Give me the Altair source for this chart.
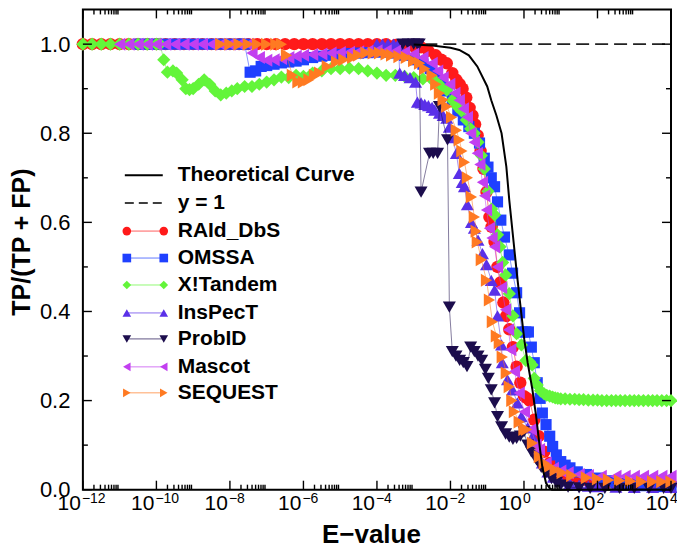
import altair as alt
import pandas as pd

W, H = 589, 481
FONT = "Liberation Sans"

# ---------------- data: (log10 E-value, TP/(TP+FP)) ----------------
raid = [(-12.0,1.0),(-11.75,1.0),(-11.5,1.0),(-11.25,1.0),(-11.0,1.0),(-10.75,1.0),(-10.5,1.0),(-10.25,1.0),
        (-10.0,1.0),(-9.75,1.0),(-9.5,1.0),(-9.25,1.0),(-9.0,1.0),(-8.75,1.0),(-8.5,1.0),(-8.25,1.0),
        (-8.0,1.0),(-7.75,1.0),(-7.5,1.0),(-7.25,1.0),(-7.0,1.0),(-6.75,1.0),(-6.5,1.0),(-6.25,1.0),
        (-6.0,1.0),(-5.75,1.0),(-5.5,1.0),(-5.25,1.0),(-5.0,1.0),(-4.75,1.0),(-4.5,1.0),(-4.25,1.0),
        (-4.0,1.0),(-3.75,1.0),(-3.5,0.998),(-3.25,0.997),(-3.0,0.995),(-2.8,0.993),(-2.6,0.985),
        (-2.4,0.975),(-2.25,0.965),(-2.1,0.957),(-1.95,0.935),(-1.84,0.92),(-1.75,0.91),(-1.67,0.90),
        (-1.57,0.88),(-1.48,0.857),(-1.4,0.84),(-1.33,0.82),(-1.26,0.795),(-1.18,0.76),(-1.1,0.72),
        (-1.02,0.668),(-0.94,0.612),(-0.88,0.59),(-0.8,0.556),(-0.72,0.50),(-0.64,0.465),(-0.56,0.42),
        (-0.48,0.39),(-0.4,0.36),(-0.3,0.32),(-0.2,0.276),(-0.1,0.24),(0.0,0.21),(0.07,0.206),
        (0.15,0.20),(0.28,0.157),(0.4,0.12),(0.55,0.085),(0.7,0.06),(0.85,0.045),(1.0,0.035),
        (1.2,0.028),(1.5,0.022),(1.75,0.019),(2.0,0.017),(2.25,0.016),(2.5,0.015),(2.75,0.014),
        (3.0,0.013),(3.25,0.013),(3.5,0.012),(3.75,0.012),(4.0,0.012)]

omssa = [(-10.5,1.0),(-10.25,1.0),(-10.0,1.0),(-9.75,1.0),(-9.5,1.0),(-9.25,1.0),(-9.0,1.0),(-8.75,1.0),
         (-8.5,1.0),(-8.25,1.0),(-8.0,1.0),(-7.75,1.0),(-7.6,1.0),(-7.45,0.937),(-7.3,0.94),(-7.15,0.95),
         (-7.0,0.952),(-6.8,0.955),(-6.6,0.958),(-6.4,0.96),(-6.2,0.962),(-6.0,0.965),(-5.75,0.97),
         (-5.5,0.973),(-5.25,0.975),(-5.0,0.977),(-4.75,0.979),(-4.5,0.98),(-4.25,0.981),(-4.0,0.982),
         (-3.75,0.982),(-3.5,0.98),(-3.25,0.975),(-3.0,0.965),(-2.75,0.955),(-2.55,0.945),(-2.4,0.93),
         (-2.25,0.915),(-2.1,0.895),(-1.95,0.875),(-1.8,0.85),(-1.65,0.83),(-1.5,0.815),(-1.35,0.80),
         (-1.21,0.778),(-1.08,0.744),(-0.98,0.724),(-0.89,0.70),(-0.8,0.68),(-0.72,0.646),(-0.63,0.605),
         (-0.53,0.567),(-0.4,0.527),(-0.31,0.486),(-0.2,0.442),(-0.12,0.397),(-0.05,0.354),(0.05,0.354),
         (0.12,0.354),(0.2,0.32),(0.28,0.285),(0.36,0.24),(0.44,0.205),(0.5,0.172),(0.6,0.146),
         (0.7,0.12),(0.78,0.097),(0.88,0.078),(1.0,0.063),(1.12,0.055),(1.25,0.049),(1.45,0.04),
         (1.7,0.034),(2.0,0.026),(2.25,0.02),(2.5,0.016),(2.75,0.013),(3.0,0.011),(3.25,0.009),
         (3.5,0.008),(3.75,0.007),(4.0,0.007)]

xtandem = [(-12.0,1.0),(-11.75,1.0),(-11.5,1.0),(-11.25,1.0),(-11.0,1.0),(-10.75,1.0),(-10.5,1.0),
           (-10.25,1.0),(-10.0,1.0),(-9.9,1.0),(-9.8,0.965),(-9.7,0.937),(-9.55,0.94),(-9.45,0.935),
           (-9.3,0.92),(-9.2,0.90),(-9.1,0.898),(-9.0,0.90),(-8.85,0.91),(-8.7,0.92),(-8.55,0.91),
           (-8.4,0.895),(-8.25,0.886),(-8.1,0.89),(-7.95,0.895),(-7.8,0.90),(-7.6,0.905),(-7.4,0.905),
           (-7.2,0.91),(-7.0,0.915),(-6.8,0.92),(-6.6,0.926),(-6.4,0.925),(-6.2,0.93),(-6.0,0.928),
           (-5.75,0.935),(-5.5,0.94),(-5.25,0.945),(-5.0,0.945),(-4.75,0.946),(-4.5,0.945),(-4.25,0.94),
           (-4.0,0.935),(-3.75,0.93),(-3.5,0.93),(-3.25,0.928),(-3.0,0.925),(-2.75,0.922),(-2.5,0.92),
           (-2.38,0.915),(-2.25,0.905),(-2.1,0.897),(-1.95,0.874),(-1.82,0.86),(-1.7,0.85),(-1.57,0.83),
           (-1.45,0.81),(-1.35,0.80),(-1.25,0.78),(-1.16,0.75),(-1.08,0.72),(-0.98,0.67),(-0.88,0.63),
           (-0.8,0.617),(-0.72,0.572),(-0.65,0.545),(-0.58,0.51),(-0.5,0.482),(-0.4,0.44),(-0.3,0.39),
           (-0.2,0.35),(-0.07,0.325),(0.05,0.29),(0.15,0.287),(0.22,0.28),(0.28,0.25),(0.36,0.235),
           (0.45,0.222),(0.55,0.215),(0.62,0.212),(0.7,0.21),(0.78,0.208),(0.85,0.206),(0.92,0.205),
           (1.0,0.204),(1.12,0.204),(1.25,0.203),(1.38,0.203),(1.5,0.202),(1.62,0.202),(1.75,0.201),
           (1.88,0.201),(2.0,0.201),(2.12,0.2),(2.25,0.2),(2.38,0.2),(2.5,0.2),(2.62,0.2),(2.75,0.2),
           (2.88,0.2),(3.0,0.2),(3.12,0.2),(3.25,0.2),(3.38,0.2),(3.5,0.2),(3.62,0.2),(3.75,0.2),
           (3.88,0.2),(4.0,0.2)]

inspect_ = [(-4.0,1.0),(-3.85,1.0),(-3.7,1.0),(-3.55,1.0),(-3.42,1.0),(-3.38,0.935),(-3.25,0.93),
            (-3.1,0.925),(-2.95,0.915),(-2.9,0.87),(-2.8,0.868),(-2.7,0.865),(-2.6,0.862),(-2.5,0.858),
            (-2.43,0.852),(-2.3,0.845),(-2.2,0.84),(-2.1,0.834),(-2.03,0.814),(-1.95,0.79),(-1.84,0.755),
            (-1.76,0.71),(-1.68,0.69),(-1.62,0.68),(-1.54,0.64),(-1.43,0.60),(-1.35,0.587),(-1.25,0.56),
            (-1.13,0.53),(-1.02,0.505),(-0.89,0.47),(-0.8,0.448),(-0.72,0.39),(-0.61,0.325),(-0.59,0.285),
            (-0.45,0.247),(-0.31,0.224),(-0.18,0.195),(-0.07,0.164),(0.1,0.139),(0.23,0.119),(0.35,0.09),
            (0.5,0.06),(0.65,0.04),(0.8,0.028),(1.0,0.02),(1.25,0.014),(1.5,0.01),(1.75,0.008),(2.0,0.007),
            (2.5,0.006),(3.0,0.005),(3.5,0.005),(4.0,0.005)]

probid = [(-3.3,1.0),(-3.15,1.0),(-3.0,1.0),(-2.9,1.0),(-2.85,1.0),(-2.8,0.668),(-2.57,0.755),
          (-2.47,0.755),(-2.35,0.755),(-2.3,0.86),(-2.08,0.785),(-2.03,0.41),(-1.95,0.31),(-1.85,0.30),
          (-1.75,0.29),(-1.65,0.285),(-1.55,0.276),(-1.45,0.32),(-1.35,0.31),(-1.25,0.30),(-1.15,0.29),
          (-1.05,0.27),(-0.97,0.25),(-0.89,0.224),(-0.8,0.195),(-0.72,0.164),(-0.61,0.141),(-0.5,0.125),
          (-0.4,0.118),(-0.3,0.113),(-0.2,0.115),(-0.1,0.12),(0.0,0.13),(0.1,0.1),(0.2,0.085),
          (0.34,0.067),(0.47,0.05),(0.6,0.038),(0.75,0.025),(0.88,0.016),(1.0,0.01),(1.2,0.006),
          (1.5,0.004),(1.8,0.003),(2.2,0.003),(2.6,0.003),(3.0,0.003),(3.4,0.003),(3.8,0.003),(4.0,0.003)]

mascot = [(-11.0,1.0),(-10.75,1.0),(-10.5,1.0),(-10.25,1.0),(-10.0,1.0),(-9.75,1.0),(-9.5,1.0),(-9.25,1.0),
          (-9.0,1.0),(-8.75,1.0),(-8.5,1.0),(-8.25,1.0),(-8.0,1.0),(-7.75,1.0),(-7.5,1.0),(-7.4,0.98),
          (-7.2,0.97),(-7.0,0.964),(-6.8,0.965),(-6.6,0.968),(-6.4,0.97),(-6.2,0.973),(-6.0,0.975),
          (-5.75,0.977),(-5.5,0.978),(-5.25,0.98),(-5.0,0.981),(-4.75,0.982),(-4.5,0.983),(-4.25,0.984),
          (-4.0,0.985),(-3.75,0.985),(-3.5,0.984),(-3.25,0.982),(-3.0,0.978),(-2.75,0.97),(-2.5,0.957),
          (-2.35,0.94),(-2.2,0.925),(-2.02,0.91),(-1.88,0.89),(-1.76,0.874),(-1.65,0.855),(-1.54,0.836),
          (-1.45,0.80),(-1.35,0.78),(-1.27,0.755),(-1.2,0.73),(-1.13,0.69),(-1.07,0.66),(-1.02,0.628),
          (-0.94,0.587),(-0.87,0.565),(-0.8,0.545),(-0.72,0.50),(-0.61,0.453),(-0.5,0.404),(-0.42,0.359),
          (-0.36,0.314),(-0.26,0.265),(-0.13,0.217),(0.01,0.175),(0.2,0.135),(0.33,0.1),(0.42,0.09),
          (0.6,0.06),(0.8,0.048),(1.0,0.042),(1.2,0.038),(1.5,0.034),(1.75,0.032),(2.1,0.03),(2.5,0.03),
          (2.75,0.03),(3.0,0.03),(3.25,0.03),(3.5,0.03),(3.75,0.03),(4.0,0.03)]

sequest = [(-8.25,1.0),(-8.0,1.0),(-7.75,1.0),(-7.5,1.0),(-7.25,1.0),(-7.0,1.0),(-6.75,1.0),(-6.6,1.0),
           (-6.46,0.975),(-6.3,0.93),(-6.15,0.915),(-6.0,0.915),(-5.85,0.92),(-5.7,0.93),(-5.56,0.935),
           (-5.35,0.95),(-5.1,0.96),(-4.9,0.965),(-4.66,0.97),(-4.5,0.975),(-4.3,0.98),(-4.1,0.98),
           (-3.93,0.98),(-3.75,0.978),(-3.6,0.975),(-3.4,0.972),(-3.2,0.97),(-3.0,0.963),(-2.84,0.957),
           (-2.7,0.945),(-2.5,0.93),(-2.4,0.91),(-2.3,0.89),(-2.2,0.875),(-2.1,0.86),(-1.97,0.836),
           (-1.84,0.807),(-1.76,0.785),(-1.69,0.76),(-1.62,0.735),(-1.54,0.70),(-1.43,0.657),(-1.35,0.612),
           (-1.3,0.58),(-1.27,0.556),(-1.16,0.516),(-1.02,0.47),(-0.94,0.426),(-0.86,0.377),(-0.75,0.345),
           (-0.67,0.33),(-0.59,0.298),(-0.48,0.262),(-0.4,0.231),(-0.33,0.2),(-0.26,0.175),(-0.13,0.152),
           (0.0,0.135),(0.07,0.135),(0.23,0.105),(0.42,0.074),(0.55,0.06),(0.69,0.052),(0.85,0.044),
           (1.04,0.038),(1.3,0.032),(1.7,0.027),(2.0,0.024),(2.3,0.022),(2.6,0.02),(2.9,0.019),(3.2,0.018),
           (3.5,0.018),(3.75,0.018),(4.0,0.018)]

theory = [(-3.0,0.999),(-2.5,0.997),(-2.0,0.992),(-1.76,0.987),(-1.5,0.975),(-1.27,0.95),(-1.0,0.905),
          (-0.89,0.874),(-0.75,0.84),(-0.61,0.80),(-0.48,0.725),(-0.4,0.65),(-0.3,0.57),(-0.2,0.49),
          (-0.08,0.40),(0.01,0.336),(0.1,0.285),(0.23,0.224),(0.33,0.165),(0.43,0.095),(0.5,0.05),
          (0.6,0.015),(0.7,0.003),(0.76,0.0),(1.0,0.0),(2.0,0.0),(3.0,0.0),(4.0,0.0)]

unity = [(-12.0,1.0),(4.0,1.0)]

names = ["RAId_DbS", "OMSSA", "X!Tandem", "InsPecT", "ProbID", "Mascot", "SEQUEST"]
series = [raid, omssa, xtandem, inspect_, probid, mascot, sequest]
colors = ["#ff1a1a", "#1f40ff", "#63f53a", "#5a30e8", "#1c0d4d", "#c23ff0", "#ff7a22"]
shapes = ["circle", "square", "diamond", "triangle-up", "triangle-down", "triangle-left", "triangle-right"]
msize = [155, 125, 175, 170, 170, 170, 170]

x_major = [-12, -10, -8, -6, -4, -2, 0, 2, 4]
minor_offsets = [0.301, 0.477, 0.602, 0.699, 0.778, 0.845, 0.903, 0.954]
y_major = [0.0, 0.2, 0.4, 0.6, 0.8, 1.0]
y_minor = [0.1, 0.3, 0.5, 0.7, 0.9]

# ---------------- chart ----------------
xs = alt.Scale(domain=[-12, 4], nice=False, zero=False)
ys = alt.Scale(domain=[0, 1.078], nice=False, zero=False)
XAX = alt.Axis(labels=False, ticks=False, domain=False, grid=False, title=None)
YAX = alt.Axis(values=y_major, format=".1f", ticks=False, domain=False, grid=False, title=None,
               labelFontSize=22, labelFont=FONT, labelColor="black", labelPadding=13)


def X(f="x"):
    return alt.X(f"{f}:Q", scale=xs, axis=XAX)


def Y(f="y"):
    return alt.Y(f"{f}:Q", scale=ys, axis=YAX)


def df(pairs):
    return pd.DataFrame(pairs, columns=["x", "y"])


layers = []
layers.append(alt.Chart(df(unity)).mark_line(color="#222222", strokeWidth=1.8, strokeDash=[13, 6])
              .encode(x=X(), y=Y()))

for name, data, col, shp, sz in zip(names, series, colors, shapes, msize):
    d = df(data)
    layers.append(alt.Chart(d).mark_line(color=col, strokeWidth=0.9, opacity=0.6).encode(x=X(), y=Y()))
    layers.append(alt.Chart(d).mark_point(filled=True, opacity=1, color=col, shape=shp, size=sz)
                  .encode(x=X(), y=Y()))

layers.append(alt.Chart(df(theory)).mark_line(color="black", strokeWidth=2).encode(x=X(), y=Y()))

# inward ticks (major and minor), on all four sides
xmaj = pd.DataFrame({"v": x_major})
xmin = pd.DataFrame({"v": [m + o for m in x_major[:-1] for o in minor_offsets]})
ymaj = pd.DataFrame({"v": y_major})
ymin = pd.DataFrame({"v": y_minor})
tk = dict(color="black", strokeWidth=1.4)
for dd, ln in ((xmaj, 9), (xmin, 5)):
    layers.append(alt.Chart(dd).mark_rule(**tk).encode(x=X("v"), y=alt.value(H), y2=alt.value(H - ln)))
    layers.append(alt.Chart(dd).mark_rule(**tk).encode(x=X("v"), y=alt.value(0), y2=alt.value(ln)))
for dd, ln in ((ymaj, 9), (ymin, 5)):
    layers.append(alt.Chart(dd).mark_rule(**tk).encode(y=Y("v"), x=alt.value(0), x2=alt.value(ln)))
    layers.append(alt.Chart(dd).mark_rule(**tk).encode(y=Y("v"), x=alt.value(W), x2=alt.value(W - ln)))

# x tick labels as 10 with a raised exponent
xl = pd.DataFrame({"v": x_major,
                   "e": [("\u2212" if v < 0 else "") + str(abs(v)) for v in x_major]})
layers.append(alt.Chart(xl).mark_text(align="right", baseline="alphabetic", fontSize=21, font=FONT,
                                      color="black", dx=-2)
              .encode(x=X("v"), y=alt.value(H + 20), text=alt.value("10")))
layers.append(alt.Chart(xl).mark_text(align="left", baseline="alphabetic", fontSize=14, font=FONT,
                                      color="black", dx=-1)
              .encode(x=X("v"), y=alt.value(H + 13), text="e:N"))

# axis titles
one = pd.DataFrame({"a": [0]})
layers.append(alt.Chart(one).mark_text(fontSize=26, fontWeight="bold", font=FONT, color="black",
                                       align="center", baseline="alphabetic")
              .encode(x=alt.value(289), y=alt.value(H + 53), text=alt.value("E\u2212value")))
layers.append(alt.Chart(one).mark_text(fontSize=25, fontWeight="bold", font=FONT, color="black",
                                       align="center", baseline="middle", angle=270)
              .encode(x=alt.value(-61), y=alt.value(233), text=alt.value("TP/(TP + FP)")))

# legend
leg_y = [166, 194, 222, 249, 276, 304, 330, 358, 384]
txt = dict(align="left", baseline="middle", fontSize=21, fontWeight="bold", font=FONT, color="black")
layers.append(alt.Chart(one).mark_rule(color="black", strokeWidth=2)
              .encode(x=alt.value(42), x2=alt.value(80), y=alt.value(leg_y[0])))
layers.append(alt.Chart(one).mark_text(**txt)
              .encode(x=alt.value(95), y=alt.value(leg_y[0]), text=alt.value("Theoretical Curve")))
layers.append(alt.Chart(one).mark_rule(color="black", strokeWidth=1.5, strokeDash=[9, 5])
              .encode(x=alt.value(42), x2=alt.value(80), y=alt.value(leg_y[1])))
layers.append(alt.Chart(one).mark_text(**txt)
              .encode(x=alt.value(95), y=alt.value(leg_y[1]), text=alt.value("y = 1")))
for i, (name, col, shp) in enumerate(zip(names, colors, shapes)):
    ry = leg_y[i + 2]
    layers.append(alt.Chart(one).mark_rule(color=col, strokeWidth=1, opacity=0.7)
                  .encode(x=alt.value(44), x2=alt.value(81), y=alt.value(ry)))
    for px in (44, 81):
        layers.append(alt.Chart(one).mark_point(filled=True, opacity=1, color=col, shape=shp, size=75)
                      .encode(x=alt.value(px), y=alt.value(ry)))
    layers.append(alt.Chart(one).mark_text(**txt)
                  .encode(x=alt.value(95), y=alt.value(ry), text=alt.value(name)))

chart = (alt.layer(*layers)
         .properties(width=W, height=H, background="white",
                     autosize=alt.AutoSizeParams(type="none"),
                     padding={"left": 75, "top": 1, "right": 6, "bottom": 61})
         .configure_view(stroke="black", strokeWidth=2)
         .configure_axis(labelFont=FONT))

chart.save("out.html", embed_options={"renderer": "svg", "actions": False})
